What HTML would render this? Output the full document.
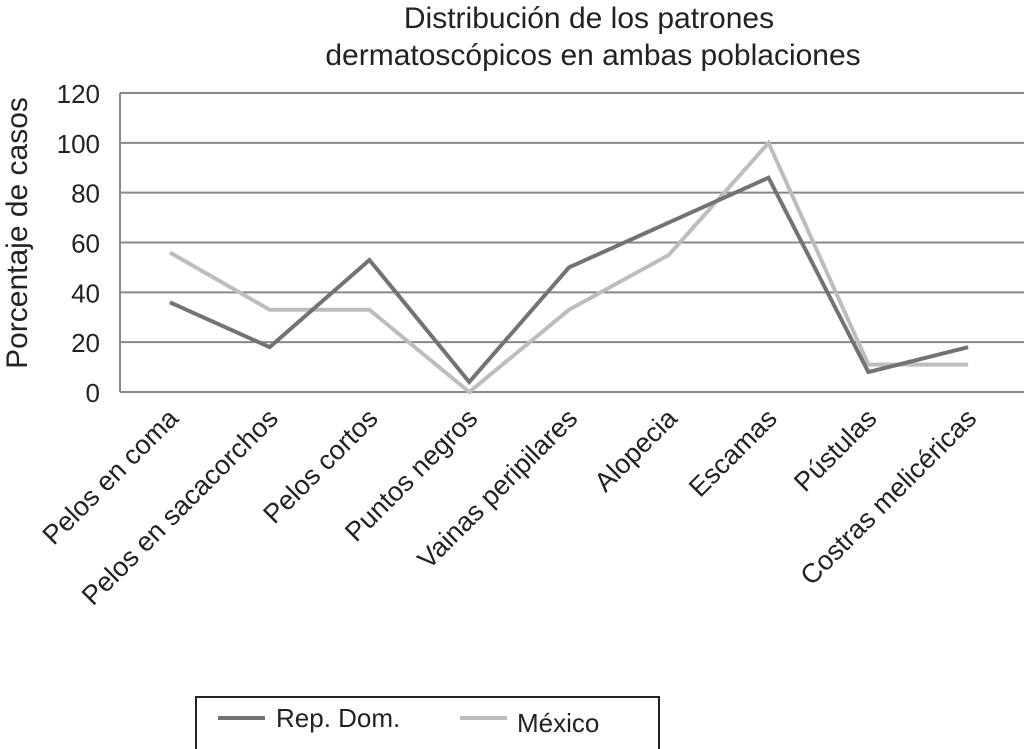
<!DOCTYPE html>
<html><head><meta charset="utf-8"><style>
html,body{margin:0;padding:0;background:#fff;}
svg{display:block;font-family:"Liberation Sans",sans-serif;}
</style></head><body>
<svg id="chart" width="1024" height="749" viewBox="0 0 1024 749">
<text x="589" y="28" font-size="30" text-anchor="middle" fill="#222">Distribución de los patrones</text>
<text x="593" y="65" font-size="30" text-anchor="middle" fill="#222">dermatoscópicos en ambas poblaciones</text>
<text transform="translate(27,233) rotate(-90)" font-size="30" text-anchor="middle" fill="#222">Porcentaje de casos</text>
<g id="grid"></g><g id="ylabels"></g><g id="xlabels"></g><g id="series"></g>
<line x1="120" y1="93" x2="120" y2="392" stroke="#888" stroke-width="2"/>
<g>
<rect x="196" y="697" width="463" height="54" fill="#fff" stroke="#222" stroke-width="2"/>
<line x1="218" y1="718" x2="265" y2="718" stroke="#737373" stroke-width="4"/>
<text x="276" y="727" font-size="26" fill="#222">Rep. Dom.</text>
<line x1="460" y1="718" x2="507" y2="718" stroke="#bdbdbd" stroke-width="4"/>
<text x="517" y="732" font-size="26" fill="#222">México</text>
</g>
</svg>
<script>
const categories=["Pelos en coma","Pelos en sacacorchos","Pelos cortos","Puntos negros","Vainas peripilares","Alopecia","Escamas","Pústulas","Costras melicéricas"];
const repDom=[36,18,53,4,50,68,86,8,18];
const mexico=[56,33,33,0,33,55,100,11,11];
const yTicks=[0,20,40,60,80,100,120];
const NS="http://www.w3.org/2000/svg";
const x0=120,x1=1018,yB=392,yT=93,yMax=120;
const xs=i=>x0+(x1-x0)/categories.length*(i+0.5);
const ys=v=>yB-(yB-yT)*v/yMax;
function mk(t,a,p){const e=document.createElementNS(NS,t);for(const k in a)e.setAttribute(k,a[k]);p.appendChild(e);return e;}
const grid=document.getElementById('grid'),yl=document.getElementById('ylabels'),xl=document.getElementById('xlabels'),sg=document.getElementById('series');
yTicks.forEach(v=>{
 const l=mk('line',{x1:x0,x2:1024,y1:ys(v),y2:ys(v),stroke:'#888','stroke-width':2},grid);
 
 
 const t=mk('text',{x:100,y:ys(v)+10,'font-size':26,'text-anchor':'end',fill:'#222'},yl);
 t.textContent=v;
 
 
});
categories.forEach((c,i)=>{
 const x=xs(i)+10,y=420;
 const t=mk('text',{x:x,y:y,'font-size':27,'text-anchor':'end',fill:'#222',transform:`rotate(-45 ${x} ${y})`},xl);
 t.textContent=c;
 
 
});
function draw(vals,color,name){
 const p=mk('polyline',{points:vals.map((v,i)=>xs(i)+','+ys(v)).join(' '),fill:'none',stroke:color,'stroke-width':4,'stroke-linejoin':'miter'},sg);
 
 
}
draw(mexico,'#bdbdbd','series-mexico');
draw(repDom,'#737373','series-rep-dom');
</script>
</body></html>
